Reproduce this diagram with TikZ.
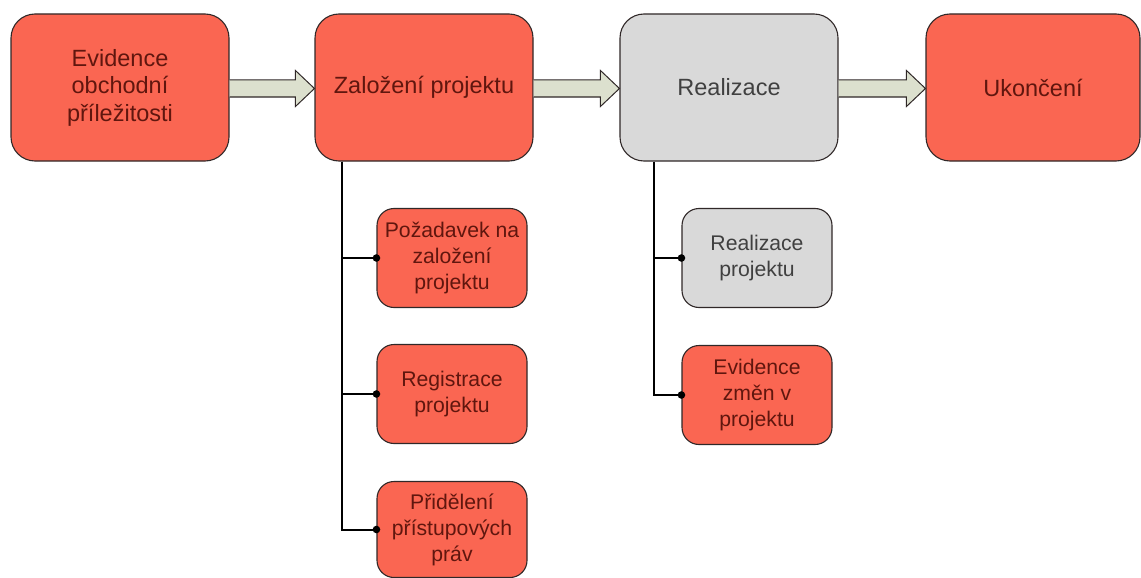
\documentclass[tikz,border=0pt]{standalone}
\usepackage{fontspec}
\setmainfont{Liberation Sans}
\usetikzlibrary{calc}
\definecolor{boxred}{RGB}{250,102,82}
\definecolor{boxgray}{RGB}{217,217,217}
\definecolor{txtred}{RGB}{96,22,14}
\definecolor{txtgray}{RGB}{64,64,64}
\definecolor{arrowfill}{RGB}{220,224,206}
\definecolor{edge}{RGB}{48,40,40}

\begin{document}
\begin{tikzpicture}[x=1pt,y=-1pt,
  phase/.style={draw=edge, line width=1.1pt, rounded corners=24pt,
    minimum width=218pt, minimum height=147pt, align=center, inner sep=2pt,
    font=\fontsize{23.5}{27.5}\selectfont},
  task/.style={draw=edge, line width=1.1pt, rounded corners=17pt,
    minimum width=150pt, minimum height=99pt, align=center, inner sep=2pt,
    font=\fontsize{21.2}{26}\selectfont},
  redfill/.style={fill=boxred, text=txtred},
  grayfill/.style={fill=boxgray, text=txtgray},
  flow/.style={draw=edge, line width=1pt, fill=arrowfill, line join=miter},
  link/.style={draw=black, line width=2pt},
]
\useasboundingbox (0,0) rectangle (1141,578);

% main phases
\node[phase, redfill]  (m1) at (120,87.5)  {Evidence\\obchodní\\příležitosti};
\node[phase, redfill]  (m2) at (424,87.5)  {Založení projektu};
\node[phase, grayfill] (m3) at (729,87.5)  {Realizace};
\node[phase, redfill, minimum width=214pt] (m4) at (1033,87.5) {Ukončení};

% tasks of the set-up phase
\node[task, redfill] (s1) at (452,258)   {Požadavek na\\založení\\projektu};
\node[task, redfill] (s2) at (452,394)   {Registrace\\projektu};
\node[task, redfill, minimum height=96pt] (s3) at (452,529.5) {Přidělení\\přístupových\\práv};

% tasks of the realisation phase
\node[task, grayfill] (g1) at (757,258) {Realizace\\projektu};
\node[task, redfill]  (g2) at (757,395) {Evidence\\změn v\\projektu};

% block arrows between phases
\foreach \a/\b in {m1/m2, m2/m3, m3/m4}
  \draw[flow] ($(\a.east)+(0,-7.5)$) -- ($(\b.west)+(-19,-7.5)$)
    -- ($(\b.west)+(-19,-17)$) -- ($(\b.west)+(0,1)$)
    -- ($(\b.west)+(-19,19)$) -- ($(\b.west)+(-19,9.5)$)
    -- ($(\a.east)+(0,9.5)$);

% tree connectors
\coordinate (r2) at ($(m2.south west)+(28,0)$);
\coordinate (r3) at ($(m3.south west)+(35,0)$);
\foreach \t in {s1,s2,s3} {
  \draw[link] (r2) |- (\t.west);
  \fill (\t.west) circle (3.8);
}
\foreach \t in {g1,g2} {
  \draw[link] (r3) |- (\t.west);
  \fill (\t.west) circle (3.8);
}
\end{tikzpicture}
\end{document}
